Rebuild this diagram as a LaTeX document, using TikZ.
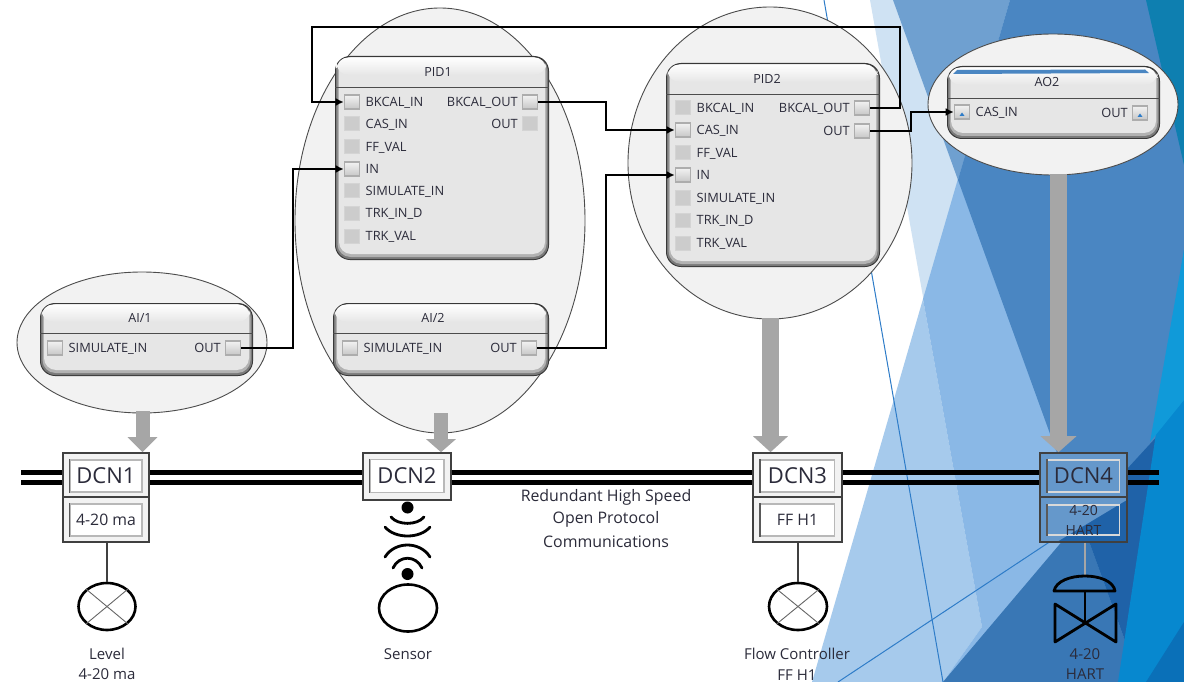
\documentclass[tikz,border=0pt]{standalone}
\usepackage{fontspec}
\setmainfont{Open Sans}
\usetikzlibrary{shapes.geometric,arrows.meta,calc}
\definecolor{cPale}{HTML}{CFE2F3}
\definecolor{cLight}{HTML}{A6CAEC}
\definecolor{cMid}{HTML}{8AB8E6}
\definecolor{cSoft}{HTML}{6FA0D0}
\definecolor{cSteel}{HTML}{4A86C2}
\definecolor{cDeep}{HTML}{3977B5}
\definecolor{cDark}{HTML}{1F62A8}
\definecolor{cBright}{HTML}{0788CF}
\definecolor{cBrightUp}{HTML}{109AD9}
\definecolor{cNavy}{HTML}{0A70B8}
\definecolor{cTeal}{HTML}{0E7FB0}
\definecolor{cThin}{HTML}{2E7CC8}
\definecolor{cEll}{HTML}{F2F2F2}
\definecolor{cBlock}{HTML}{E6E6E6}
\definecolor{cFat}{HTML}{A6A6A6}
\definecolor{cTxt}{HTML}{2B2B3A}
\tikzset{
  x=1pt,y=-1pt,
  bub/.style={ellipse,draw=black!70,line width=.9pt,fill=cEll,inner sep=0pt},
  lbltext/.style={font=\fontsize{12.8}{14}\selectfont,text=cTxt,inner sep=0pt,text height=9pt,text depth=0pt},
  titletext/.style={font=\fontsize{12.6}{14}\selectfont,text=cTxt,inner sep=0pt},
  infotext/.style={font=\fontsize{15}{17}\selectfont,text=cTxt,inner sep=0pt},
  redtext/.style={font=\fontsize{15.9}{18}\selectfont,text=cTxt,inner sep=0pt},
  portoff/.style={rectangle,minimum width=15pt,minimum height=14pt,inner sep=0pt,fill=black!20,draw=black!17,line width=1pt},
  porton/.style={rectangle,minimum width=15pt,minimum height=14pt,inner sep=0pt,top color=black!5,bottom color=black!22,draw=black!32,line width=1.6pt},
  portblue/.style={porton,path picture={\fill[cThin] ([xshift=-2.5pt,yshift=-4pt]path picture bounding box.center) -- ++(5,0) -- ++(-2.5,-3.5) -- cycle;}},
  wire/.style={draw=black,line width=2.3pt},
  wirein/.style={wire,-{Latex[length=8pt,width=8pt]}},
  fat/.style={draw=cFat,line width=#1},
  fat/.default=14pt,
  dcnouter/.style={rectangle,draw=black!75,line width=1.6pt,fill=cEll,inner sep=0pt},
  dcninner/.style={rectangle,draw=black!28,line width=1.4pt,fill=white,inner sep=0pt,text=cTxt},
  dcnclear/.style={rectangle,draw=black!75,line width=1.6pt,inner sep=0pt},
  dcnclearin/.style={rectangle,draw=white!85!black,line width=1.4pt,inner sep=0pt,text=cTxt},
  dcnbig/.style={font=\fontsize{22}{24}\selectfont},
  dcnsmall/.style={font=\fontsize{15.8}{17}\selectfont,align=center},
  inst/.style={ellipse,draw=black,line width=2.6pt,fill=white,inner sep=0pt,minimum width=57pt,minimum height=47pt},
  stub/.style={draw=black!75,line width=1.2pt},
  thin/.style={draw=cThin,line width=1pt},
  waveline/.style={draw=black,line width=2.8pt,line cap=round}
}
\newcommand{\blk}[5]{%
  \fill[black!78,rounded corners=15pt] (#1,#2) rectangle (#3,#4);
  \fill[black!52,rounded corners=14pt] ({#1+1},{#2+1.4}) rectangle ({#3-1},{#4-1});
  \fill[black!30,rounded corners=13pt] ({#1+2.5},{#2+1.4}) rectangle ({#3-2.5},{#4-3});
  \fill[cBlock,rounded corners=12pt] ({#1+4},{#2+1.4}) rectangle ({#3-4},{#4-6});
  \shade[top color=white,bottom color=cBlock,rounded corners=12pt] ({#1+1.5},{#2+1.4}) rectangle ({#3-3},{#2+19});
  \draw[black!70,line width=.9pt] (#1,#5) -- (#3,#5);
}
\newcommand{\lprt}[5]{\node[#4] (#1) at (#2,#3) {}; \node[lbltext,anchor=west] (#1t) at ({#2+13.5},#3) {#5};}
\newcommand{\rprt}[5]{\node[#4] (#1) at (#2,#3) {}; \node[lbltext,anchor=east] (#1t) at ({#2-12},#3) {#5};}
\begin{document}
\begin{tikzpicture}
\useasboundingbox (0,0) rectangle (1184,682);
\fill[white] (0,0) rectangle (1184,682);
% background
\fill[cPale] (870,0) -- (1184,0) -- (1184,682) -- (943,682) -- (982,627) -- cycle;
\fill[cLight] (923,299) -- (982,627) -- (943,682) -- (812,682) -- cycle;
\fill[cMid] (923,299) -- (1010,0) -- (1184,0) -- (1184,682) -- (943,682) -- (982,627) -- cycle;
\fill[cSoft] (893,0) -- (1010,0) -- (958,180) -- cycle;
\fill[cSteel] (1010,0) -- (1184,0) -- (1184,682) -- (1140,682) -- (958,180) -- cycle;
\fill[cDeep] (943,682) -- (1081,519) -- (1140,682) -- cycle;
\fill[cDark] (1081,519) -- (1184,407) -- (1184,682) -- (1140,682) -- cycle;
\fill[cBright] (1184,250) -- (1184,682) -- (1118,682) -- cycle;
\fill[cBrightUp] (1184,250) -- (1184,400) -- (1150,442) -- cycle;
\fill[cNavy] (1184,622) -- (1184,682) -- (1146,682) -- cycle;
\fill[cTeal] (1146,0) -- (1184,0) -- (1184,165) -- cycle;
\draw[thin] (824,0) -- (943,682);
\draw[thin] (1060,535) -- (838,682);
% bubbles
\node[bub,minimum width=250pt,minimum height=141pt] (eAI1) at (142,342.5) {};
\node[bub,minimum width=290pt,minimum height=425pt] (ePID1) at (440,220.5) {};
\node[bub,minimum width=284pt,minimum height=312pt] (ePID2) at (770,163) {};
\node[bub,minimum width=250pt,minimum height=141pt] (eAO2) at (1053,104.5) {};
% blocks
\blk{335}{56}{549}{260}{87}
\blk{666}{63}{880}{267}{94}
\blk{947}{66}{1160}{139}{98}
\blk{40}{303}{253}{376}{333}
\blk{333}{303}{549}{376}{333}
\fill[cSteel] (953,74) -- (957,70) -- (1145,69.5) -- (1149,73) -- cycle;
\node[titletext] (tPID1) at (438,72) {PID1};
\node[titletext] (tPID2) at (767,79) {PID2};
\node[titletext] (tAO2) at (1047,82) {AO2};
\node[titletext] (tAI1) at (140,318) {AI/1};
\node[titletext] (tAI2) at (433,318) {AI/2};
% PID1 ports
\lprt{aBk}{352}{102}{porton}{BKCAL\_IN}
\lprt{aCas}{352}{124}{portoff}{CAS\_IN}
\lprt{aFf}{352}{147}{portoff}{FF\_VAL}
\lprt{aIn}{352}{169}{porton}{IN}
\lprt{aSim}{352}{191}{portoff}{SIMULATE\_IN}
\lprt{aTrd}{352}{213.5}{portoff}{TRK\_IN\_D}
\lprt{aTrv}{352}{236}{portoff}{TRK\_VAL}
\rprt{aBo}{530}{102}{porton}{BKCAL\_OUT}
\rprt{aOut}{530}{124}{portoff}{OUT}
% PID2 ports
\lprt{bBk}{683}{108}{portoff}{BKCAL\_IN}
\lprt{bCas}{683}{130}{porton}{CAS\_IN}
\lprt{bFf}{683}{153}{portoff}{FF\_VAL}
\lprt{bIn}{683}{175}{porton}{IN}
\lprt{bSim}{683}{198}{portoff}{SIMULATE\_IN}
\lprt{bTrd}{683}{220}{portoff}{TRK\_IN\_D}
\lprt{bTrv}{683}{243}{portoff}{TRK\_VAL}
\rprt{bBo}{862}{108}{porton}{BKCAL\_OUT}
\rprt{bOut}{862}{131}{porton}{OUT}
% AO2
\lprt{cCas}{962}{112}{portblue}{CAS\_IN}
\rprt{cOut}{1140}{113}{portblue}{OUT}
% AI blocks
\lprt{dSim}{55}{348}{porton}{SIMULATE\_IN}
\rprt{dOut}{233}{348}{porton}{OUT}
\lprt{eSim}{350}{348}{porton}{SIMULATE\_IN}
\rprt{eOut}{529}{348}{porton}{OUT}
% wires
\coordinate (w1) at (293,250);
\coordinate (w2) at (606,250);
\coordinate (w3) at (606,115);
\coordinate (w4) at (900,27);
\coordinate (w5) at (312,60);
\coordinate (w6) at (911,120);
\draw[wirein] (dOut.east) -| (w1) |- (aIn.west);
\draw[wirein] (eOut.east) -| (w2) |- (bIn.west);
\draw[wirein] (aBo.east) -| (w3) |- (bCas.west);
\draw[wirein] (bBo.east) -| (w4) -| (w5) |- (aBk.west);
\draw[wirein] (bOut.east) -| (w6) |- (cCas.west);
% bus
\coordinate (busA1) at (21,472);
\coordinate (busB1) at (1159,472);
\coordinate (busA2) at (21,482.5);
\coordinate (busB2) at (1159,482.5);
\draw[black,line width=5pt] (busA1) -- (busB1);
\draw[black,line width=5pt] (busA2) -- (busB2);
% DCN1
\node[dcnouter,minimum width=86pt,minimum height=44pt] (n1) at (106,475) {};
\node[dcnouter,minimum width=86pt,minimum height=45pt] (n1b) at (106,519.5) {};
\node[dcninner,dcnbig,minimum width=72pt,minimum height=32pt] (n1i) at (106,476) {DCN1};
\node[dcninner,dcnsmall,minimum width=72pt,minimum height=32pt] (n1bi) at (106,520) {4-20 ma};
\draw[black!65,line width=1.6pt] (n1i.north west) -- (n1i.south west);
\draw[black!65,line width=1.6pt] (n1bi.north west) -- (n1bi.south west);
% DCN2
\node[dcnouter,minimum width=88pt,minimum height=47pt] (n2) at (407,476.5) {};
\node[dcninner,dcnbig,minimum width=74pt,minimum height=33pt] (n2i) at (407,476) {DCN2};
\draw[black!65,line width=1.6pt] (n2i.north west) -- (n2i.south west);
% DCN3
\node[dcnouter,minimum width=89pt,minimum height=44pt] (n3) at (797.5,475) {};
\node[dcnouter,minimum width=89pt,minimum height=45pt] (n3b) at (797.5,519.5) {};
\node[dcninner,dcnbig,minimum width=74pt,minimum height=32pt] (n3i) at (797.5,476) {DCN3};
\node[dcninner,dcnsmall,minimum width=74pt,minimum height=32pt] (n3bi) at (797.5,520) {FF H1};
\draw[black!65,line width=1.6pt] (n3i.north west) -- (n3i.south west);
\draw[black!65,line width=1.6pt] (n3bi.north west) -- (n3bi.south west);
% DCN4
\fill[cSteel!85!white] (1040,453) rectangle (1127,497);
\fill[cSteel!85!white] (1040,497) rectangle (1127,542);
\fill[cDark] (1057,542) -- (1127,500) -- (1127,542) -- cycle;
\node[dcnclear,minimum width=87pt,minimum height=44pt] (n4) at (1083.5,475) {};
\node[dcnclear,minimum width=87pt,minimum height=45pt] (n4b) at (1083.5,519.5) {};
\node[dcnclearin,dcnbig,minimum width=72pt,minimum height=32pt] (n4i) at (1083.5,476) {DCN4};
\node[dcnclearin,font=\fontsize{14}{20}\selectfont,align=center,minimum width=72pt,minimum height=30pt] (n4bi) at (1083.5,520) {4-20\\HART};
\draw[black!65,line width=1.6pt] (n4i.north west) -- (n4i.south west);
\draw[black!65,line width=1.6pt] (n4bi.north west) -- (n4bi.south west);
% big arrows
\coordinate (fa1) at (142.5,411);
\coordinate (fa2) at (441,413);
\coordinate (fa3) at (770.5,318);
\coordinate (fa4) at (1058.5,174);
\draw[fat=14pt,-{Triangle[length=15pt,width=29pt]}] (fa1) -- (fa1 |- n1.north);
\draw[fat=14pt,-{Triangle[length=13pt,width=29pt]}] (fa2) -- (fa2 |- n2.north);
\draw[fat=17pt,-{Triangle[length=16pt,width=34pt]}] (fa3) -- (fa3 |- n3.north);
\draw[fat=17pt,-{Triangle[length=16pt,width=35pt]}] (fa4) -- (fa4 |- n4.north);
% instruments
\node[inst] (i1) at (107,606.5) {};
\node[inst,minimum width=58pt] (i3) at (798,606.5) {};
\node[inst,minimum width=58pt] (i2) at (408,608) {};
\foreach \n in {i1,i3}{
  \draw[black!60,line width=.9pt] (\n.north west) -- (\n.south east);
  \draw[black!60,line width=.9pt] (\n.north east) -- (\n.south west);
}
\draw[stub] (n1b.south -| i1.north) -- (i1.north);
\draw[stub] (n3b.south -| i3.north) -- (i3.north);
% sensor waves
\node[circle,fill=black,minimum size=12pt,inner sep=0pt] (w7) at (407.5,507.5) {};
\node[circle,fill=black,minimum size=12pt,inner sep=0pt] (w8) at (407.5,574) {};
\draw[waveline] (391,517) .. controls (398,525.5) and (417,525.5) .. (424,517);
\draw[waveline] (385,527) .. controls (395,539) and (420,539) .. (430,527);
\draw[waveline] (393,568) .. controls (399,555) and (416,555) .. (422,568);
\draw[waveline] (385,557) .. controls (395,541) and (420,541) .. (430,557);
% valve
\coordinate (v0) at (1085,576);
\coordinate (v1) at (1085,591);
\coordinate (v2) at (1085,623);
\draw[black!35,line width=1.6pt] (n4b.south -| v0) -- (v0);
\draw[black,line width=2.8pt,line join=round] (1054,591) .. controls (1058,571) and (1112,571) .. (1115,591) -- cycle;
\draw[black,line width=1.8pt] (v1) -- (v2);
\draw[black,line width=2.8pt,line join=round] (1055,604) -- (1116,642) -- (1116,604) -- (1055,642) -- cycle;
% labels
\node[infotext] (l1) at (107,654) {Level};
\node[infotext] (l2) at (107,674.5) {4-20 ma};
\node[infotext] (l3) at (408,654) {Sensor};
\node[infotext] (l4) at (797,654) {Flow Controller};
\node[infotext] (l5) at (797,675) {FF H1};
\node[infotext] (l6) at (1085,654) {4-20};
\node[infotext] (l7) at (1085,674.5) {HART};
\node[redtext] (r1) at (606,497) {Redundant High Speed};
\node[redtext] (r2) at (606,519) {Open Protocol};
\node[redtext] (r3) at (606,541.5) {Communications};
\end{tikzpicture}
\end{document}
